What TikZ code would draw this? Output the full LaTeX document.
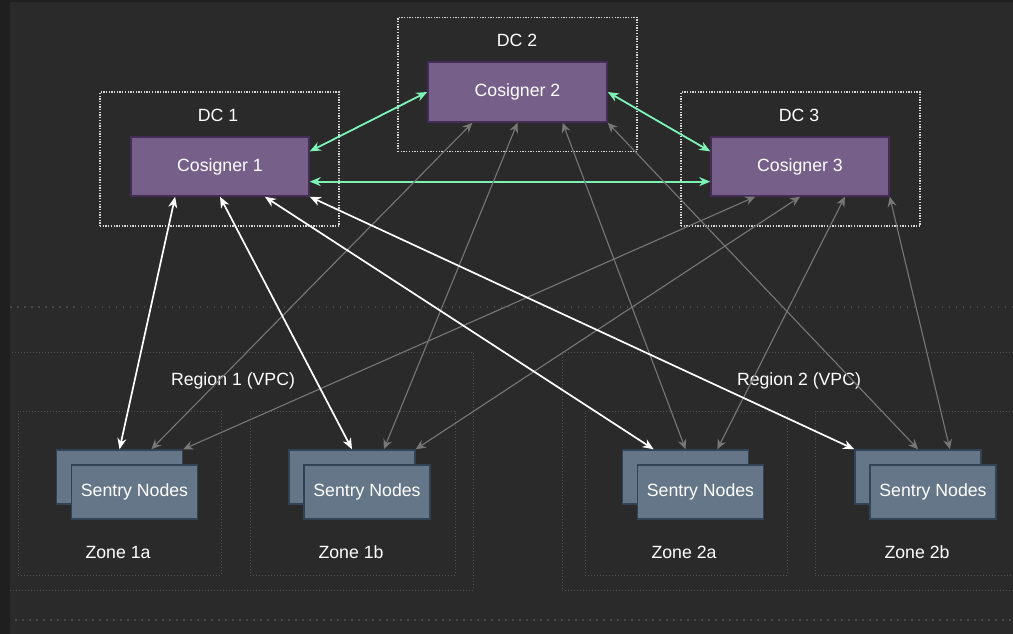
\documentclass[tikz,border=0pt]{standalone}
\usepackage{fontspec}
\setmainfont{Liberation Sans}
\usetikzlibrary{arrows.meta,calc}
\definecolor{bg}{HTML}{2A2A2A}
\definecolor{rim}{HTML}{1F1F1F}
\definecolor{cofill}{HTML}{76608A}
\definecolor{codraw}{HTML}{432D57}
\definecolor{sefill}{HTML}{647687}
\definecolor{sedraw}{HTML}{314354}
\definecolor{mint}{HTML}{7DF4B6}
\definecolor{link}{HTML}{777777}
\definecolor{frame}{HTML}{D8D8D8}
\definecolor{zoneline}{HTML}{525252}
\definecolor{netline}{HTML}{4A4A4A}
\begin{document}
\begin{tikzpicture}[x=1pt,y=-1pt,
  lbl/.style={text=white, font=\fontsize{17.7}{20}\selectfont, inner sep=0pt},
  cosigner/.style={lbl, draw=codraw, fill=cofill, line width=1.5pt,
    minimum width=178pt, minimum height=59pt},
  sentry/.style={lbl, draw=sedraw, fill=sefill, line width=1.5pt,
    minimum width=126pt, minimum height=54pt},
  dcbox/.style={draw=frame, line width=1.3pt, dash pattern=on 1.3pt off 1.4pt,
    minimum width=239pt, minimum height=134pt, inner sep=0pt},
  zonebox/.style={draw=zoneline, line width=0.9pt, dash pattern=on 1pt off 2pt,
    minimum height=164pt, inner sep=0pt},
  regionbox/.style={draw=zoneline, line width=0.9pt, dash pattern=on 1pt off 2pt,
    minimum height=238pt, inner sep=0pt},
  netbox/.style={draw=netline, line width=1.2pt, dash pattern=on 1.5pt off 5.5pt,
    minimum width=1060pt, minimum height=313pt, inner sep=0pt},
  mintlink/.style={draw=mint, line width=1.8pt, {Stealth[length=11pt,width=9pt,inset=3.5pt]}-{Stealth[length=11pt,width=9pt,inset=3.5pt]}},
  whitelink/.style={draw=white, line width=1.7pt, {Stealth[length=11pt,width=9pt,inset=3.5pt]}-{Stealth[length=11pt,width=9pt,inset=3.5pt]}},
  greylink/.style={draw=link, line width=1.1pt, {Stealth[length=10pt,width=9pt,inset=3.5pt]}-{Stealth[length=10pt,width=9pt,inset=3.5pt]}}
]
% canvas
\useasboundingbox (0,0) rectangle (1013,634);
\fill[bg] (0,0) rectangle (1013,634);

% network band, regions and zones
\node[netbox] (net) at (510,463.5) {};
\node[regionbox, minimum width=490pt] (reg1) at (228,471) {};
\node[regionbox, minimum width=480pt] (reg2) at (802,471) {};
\node[lbl] (reg1lbl) at (233,381) {Region 1 (VPC)};
\node[lbl] (reg2lbl) at (799,381) {Region 2 (VPC)};

\node[zonebox, minimum width=203pt] (z1a) at (119.5,493) {};
\node[zonebox, minimum width=205pt] (z1b) at (352.5,493) {};
\node[zonebox, minimum width=202pt] (z2a) at (686,493) {};
\node[zonebox, minimum width=203pt] (z2b) at (916.5,493) {};
\node[lbl] (z1alab) at (118,552) {Zone 1a};
\node[lbl] (z1blab) at (351,552) {Zone 1b};
\node[lbl] (z2alab) at (684,552) {Zone 2a};
\node[lbl] (z2blab) at (917,552) {Zone 2b};

% data centres
\node[dcbox] (dc1) at (219.5,159) {};
\node[dcbox] (dc2) at (517.5,84.5) {};
\node[dcbox] (dc3) at (800.5,159) {};
\node[lbl] (dc1lab) at (218,115) {DC 1};
\node[lbl] (dc2lab) at (517,40) {DC 2};
\node[lbl] (dc3lab) at (799,115) {DC 3};

% window edges
\fill[rim] (0,0) rectangle (10,634);
\fill[rim] (0,0) rectangle (1013,2);

% cosigners
\node[cosigner] (c1) at (220,166.5) {Cosigner 1};
\node[cosigner, minimum width=179pt, minimum height=60pt] (c2) at (517.5,92) {Cosigner 2};
\node[cosigner] (c3) at (800,166.5) {Cosigner 3};

% sentry node stacks
\node[sentry] (sb1a) at (119.5,477) {};
\node[sentry] (sf1a) at (134.5,492) {Sentry Nodes};
\node[sentry] (sb1b) at (352,477) {};
\node[sentry] (sf1b) at (367,492) {Sentry Nodes};
\node[sentry] (sb2a) at (685.5,477) {};
\node[sentry] (sf2a) at (700.5,492) {Sentry Nodes};
\node[sentry] (sb2b) at (918,477) {};
\node[sentry] (sf2b) at (933,492) {Sentry Nodes};

% cosigner mesh
\draw[mintlink] ($(c1.north east)!0.25!(c1.south east)$) -- (c2.west);
\draw[mintlink] (c2.east) -- ($(c3.north west)!0.25!(c3.south west)$);
\draw[mintlink] ($(c1.north east)!0.75!(c1.south east)$) -- ($(c3.north west)!0.75!(c3.south west)$);

% cosigner 2 to sentries
\draw[greylink] ($(c2.south west)!0.25!(c2.south east)$) -- ($(sb1a.north west)!0.75!(sb1a.north east)$);
\draw[greylink] ($(c2.south west)!0.5!(c2.south east)$) -- ($(sb1b.north west)!0.75!(sb1b.north east)$);
\draw[greylink] ($(c2.south west)!0.75!(c2.south east)$) -- (sb2a.north);
\draw[greylink] (c2.south east) -- (sb2b.north);

% cosigner 3 to sentries
\draw[greylink] ($(c3.south west)!0.25!(c3.south east)$) -- (sb1a.north east);
\draw[greylink] ($(c3.south west)!0.5!(c3.south east)$) -- (sb1b.north east);
\draw[greylink] ($(c3.south west)!0.75!(c3.south east)$) -- ($(sb2a.north west)!0.75!(sb2a.north east)$);
\draw[greylink] (c3.south east) -- ($(sb2b.north west)!0.75!(sb2b.north east)$);

% cosigner 1 to sentries
\draw[whitelink] ($(c1.south west)!0.25!(c1.south east)$) -- (sb1a.north);
\draw[whitelink] (c1.south) -- (sb1b.north);
\draw[whitelink] ($(c1.south west)!0.75!(c1.south east)$) -- ($(sb2a.north west)!0.25!(sb2a.north east)$);
\draw[whitelink] (c1.south east) -- (sb2b.north west);
\end{tikzpicture}
\end{document}
